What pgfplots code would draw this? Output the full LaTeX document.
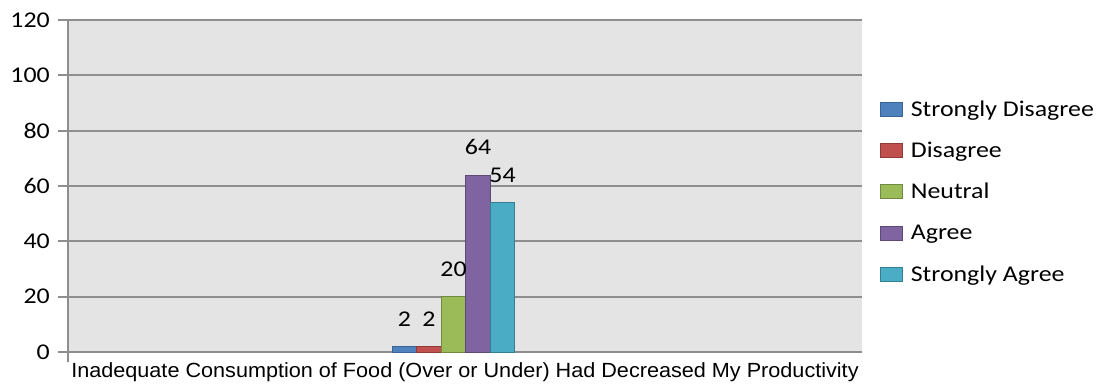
\documentclass[border=0pt]{standalone}
\usepackage{fontspec}
\setmainfont{Carlito}[FakeStretch=1.15, Ligatures=NoCommon]
\newfontfamily\labelfont{Liberation Sans}[FakeStretch=1.055, Ligatures=NoCommon]
\usepackage{pgfplots}
\pgfplotsset{compat=1.18}

\definecolor{bggray}{HTML}{E4E4E4}
\definecolor{gridgray}{HTML}{8E8E8E}
\definecolor{sdis}{HTML}{4F81BD}\definecolor{sdisD}{HTML}{3A6495}
\definecolor{dis}{HTML}{C0504D}\definecolor{disD}{HTML}{8F3B39}
\definecolor{neu}{HTML}{9BBB59}\definecolor{neuD}{HTML}{718A40}
\definecolor{agr}{HTML}{8064A2}\definecolor{agrD}{HTML}{5D4977}
\definecolor{sagr}{HTML}{4BACC6}\definecolor{sagrD}{HTML}{357F93}

\newcommand{\chartfont}{\fontsize{22.5}{27}\selectfont}

\begin{document}
\begin{tikzpicture}[x=1pt,y=1pt]
\begin{axis}[
  at={(68pt,31pt)}, anchor=south west,
  scale only axis, width=794pt, height=332pt,
  xmin=68, xmax=862, ymin=0, ymax=120,
  axis background/.style={fill=bggray},
  axis x line=bottom, axis y line=left,
  axis line style={-, draw=gridgray, line width=1.8pt},
  ytick={0,20,40,60,80,100,120},
  yticklabels={0,20,40,60,80,100,120},
  ymajorgrids, grid style={gridgray, line width=1.8pt},
  ytick style={draw=gridgray, line width=1.8pt},
  tick align=outside, major tick length=10pt,
  xtick={465},
  xticklabels={Inadequate Consumption of Food (Over or Under) Had Decreased My Productivity},
  xtick style={draw=none},
  extra x ticks={68}, extra x tick labels={},
  extra x tick style={xtick style={draw=gridgray, line width=1.8pt}, xmajorgrids=false},
  /pgf/number format/assume math mode=true,
  yticklabel style={font=\chartfont, inner sep=0pt},
  yticklabel shift=8pt,
  xticklabel style={font=\labelfont\fontsize{20.5}{24}\selectfont, inner sep=0pt, anchor=base, yshift=-15pt},
  xticklabel shift=0pt,
  every node near coord/.append style={font=\chartfont, anchor=south, inner sep=0pt, yshift=19.5pt, black},
  legend style={at={(1.0227,0.759)}, anchor=north west, draw=none, fill=none,
    inner sep=0pt, outer sep=0pt,
    font=\chartfont,
    nodes={inner sep=0pt, text height=16pt, text depth=5pt},
    row sep=20.3pt, column sep=8pt},
  legend cell align=left,
  legend image code/.code={\draw[#1, line width=0.8pt] (0pt,-5.5pt) rectangle (22pt,8.5pt);},
]
\addplot[ybar, bar width=24.5, bar shift=0pt, fill=sdis, draw=sdisD, line width=0.8pt, nodes near coords] coordinates {(404.5,2)};
\addlegendentry{Strongly Disagree}
\addplot[ybar, bar width=24.5, bar shift=0pt, fill=dis, draw=disD, line width=0.8pt, nodes near coords] coordinates {(429,2)};
\addlegendentry{Disagree}
\addplot[ybar, bar width=24.5, bar shift=0pt, fill=neu, draw=neuD, line width=0.8pt, nodes near coords] coordinates {(453.5,20)};
\addlegendentry{Neutral}
\addplot[ybar, bar width=24.5, bar shift=0pt, fill=agr, draw=agrD, line width=0.8pt, nodes near coords] coordinates {(478,64)};
\addlegendentry{Agree}
\addplot[ybar, bar width=24.5, bar shift=0pt, fill=sagr, draw=sagrD, line width=0.8pt, nodes near coords] coordinates {(502.5,54)};
\addlegendentry{Strongly Agree}
\end{axis}
\pgfresetboundingbox
\useasboundingbox (0,0) rectangle (1105,383);
\end{tikzpicture}
\end{document}
